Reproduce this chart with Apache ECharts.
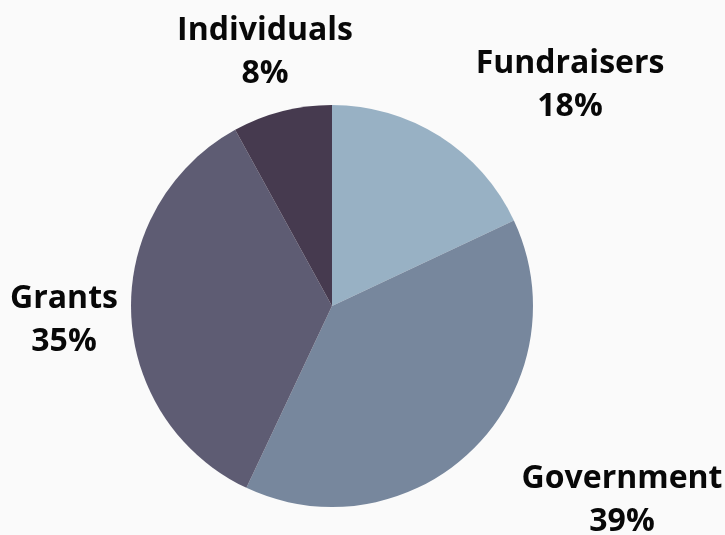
<!DOCTYPE html>
<html>
<head>
<meta charset="utf-8">
<style>
html,body{margin:0;padding:0;background:#fafafa;}
#chart{width:725px;height:535px;}
</style>
<script src="https://cdn.jsdelivr.net/npm/echarts@6/dist/echarts.min.js"></script>
</head>
<body>
<div id="chart"></div>
<script>
const categories = ['Fundraisers', 'Government', 'Grants', 'Individuals'];
const values = [18, 39, 35, 8];
const colors = ['#98b1c4', '#77879d', '#5e5c73', '#463a4f'];

// label centres relative to the pie centre (layout, not data)
const pieCenter = [332, 306];
const labelAnchors = [[238, -221], [290, 194], [-268, 14], [-67, -254]];

const chart = echarts.init(document.getElementById('chart'));
chart.setOption({
  backgroundColor: '#fafafa',
  animation: false,
  series: [{
    type: 'pie',
    center: pieCenter,
    radius: [0, 201],
    startAngle: 90,
    clockwise: true,
    avoidLabelOverlap: false,
    data: categories.map((c, i) => ({
      name: c, value: values[i],
      itemStyle: { color: colors[i] }
    })),
    itemStyle: { borderWidth: 0 },
    label: {
      show: true,
      position: 'outside',
      formatter: p => p.name + '\n' + p.value + '%',
      fontFamily: 'Open Sans',
      fontWeight: 'bold',
      fontSize: 32,
      lineHeight: 43,
      color: '#080808'
    },
    labelLine: { show: false },
    labelLayout: function (params) {
      const a = labelAnchors[params.dataIndex];
      return {
        x: pieCenter[0] + a[0],
        y: pieCenter[1] + a[1],
        align: 'center',
        verticalAlign: 'middle'
      };
    },
    emphasis: { disabled: true }
  }]
});
</script>
</body>
</html>
